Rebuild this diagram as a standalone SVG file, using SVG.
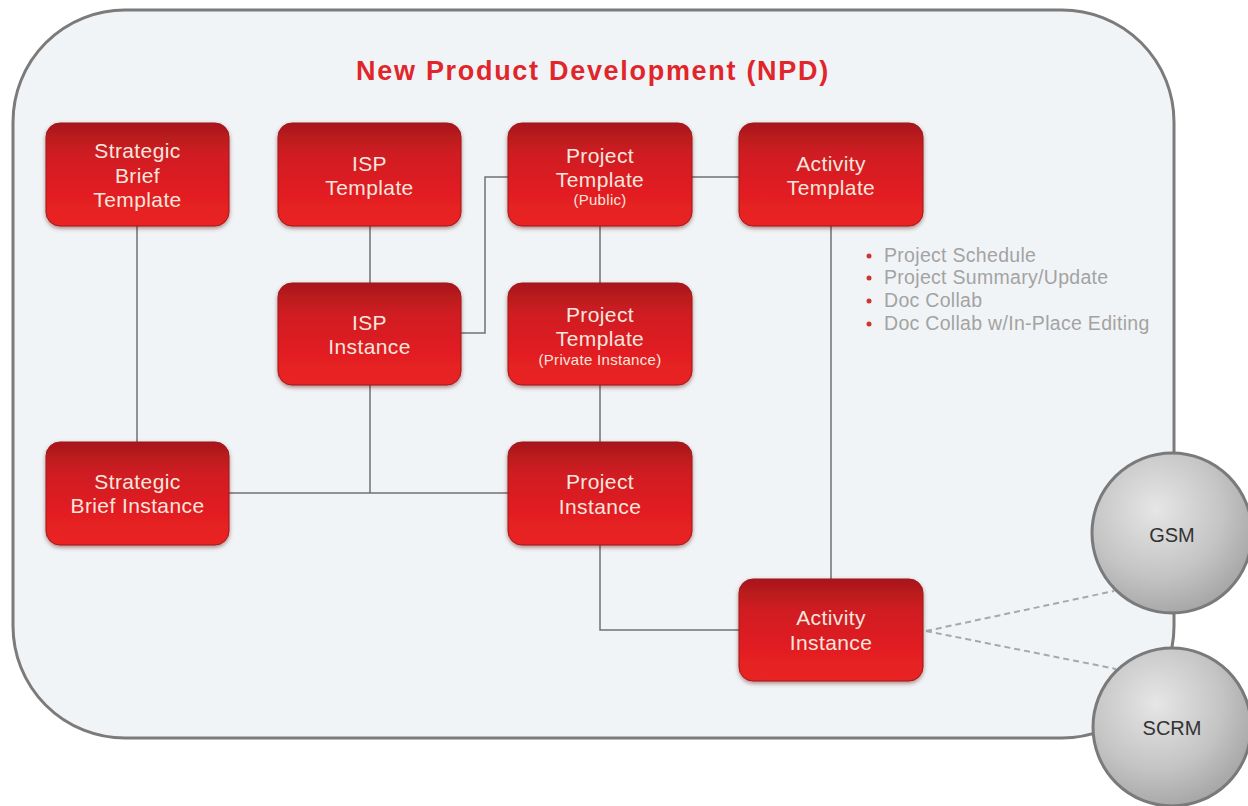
<svg xmlns="http://www.w3.org/2000/svg" width="1248" height="806" viewBox="0 0 1248 806">
<defs>
<linearGradient id="red" x1="0" y1="0" x2="0" y2="1">
<stop offset="0" stop-color="#a8181c"/>
<stop offset="0.3" stop-color="#cf1d21"/>
<stop offset="0.7" stop-color="#e31f20"/>
<stop offset="1" stop-color="#ea2220"/>
</linearGradient>
<radialGradient id="gray" cx="0.4" cy="0.35" r="0.7">
<stop offset="0" stop-color="#e6e6e6"/>
<stop offset="0.6" stop-color="#c4c4c4"/>
<stop offset="1" stop-color="#a3a3a3"/>
</radialGradient>
<filter id="sh" x="-10%" y="-10%" width="120%" height="125%">
<feDropShadow dx="0" dy="2" stdDeviation="2" flood-color="#5a1010" flood-opacity="0.45"/>
</filter>
</defs>
<style>
.box{fill:url(#red);stroke:#9e1a1c;stroke-width:1;filter:url(#sh)}
.nt{font-family:"Liberation Sans",Arial,sans-serif;font-size:21px;fill:#f6e6de;text-anchor:middle;letter-spacing:0.4px}
.st{font-size:15px;letter-spacing:0.3px}
.ln{fill:none;stroke:#707070;stroke-width:1.5}
.dl{fill:none;stroke:#a8a8a8;stroke-width:2;stroke-dasharray:6 4}
.bl{font-family:"Liberation Sans",Arial,sans-serif;font-size:19.5px;fill:#a3a3a3;letter-spacing:0.3px}
.circ{fill:url(#gray);stroke:#7a7a7a;stroke-width:3}
.ct{font-family:"Liberation Sans",Arial,sans-serif;font-size:20px;fill:#333;text-anchor:middle}
</style>
<rect width="1248" height="806" fill="#ffffff"/>
<g id="container">
<rect x="13" y="10" width="1161" height="728" rx="112" ry="112" fill="#f1f4f6" stroke="#7d7a7a" stroke-width="3"/>
<text x="593" y="80" font-family="'Liberation Sans',Arial,sans-serif" font-size="27" font-weight="bold" fill="#e0262a" text-anchor="middle" letter-spacing="1.7">New Product Development (NPD)</text>
</g>
<g id="connectors">
<path class="ln" d="M137 226V442"/>
<path class="ln" d="M370 226V283"/>
<path class="ln" d="M461 333H485V177H508"/>
<path class="ln" d="M692 177H739"/>
<path class="ln" d="M600 226V283"/>
<path class="ln" d="M600 385V442"/>
<path class="ln" d="M370 385V493"/>
<path class="ln" d="M229 493H508"/>
<path class="ln" d="M600 545V630H739"/>
<path class="ln" d="M831 226V579"/>
<path class="dl" d="M926 631L1114 591"/>
<path class="dl" d="M926 631L1116 669"/>
</g>
<g id="sbt">
<rect class="box" x="46" y="123" width="183" height="103" rx="14"/>
<text class="nt" x="137.5" y="158">Strategic</text>
<text class="nt" x="137.5" y="183">Brief</text>
<text class="nt" x="137.5" y="207">Template</text>
</g>
<g id="ispt">
<rect class="box" x="278" y="123" width="183" height="103" rx="14"/>
<text class="nt" x="369.5" y="171">ISP</text>
<text class="nt" x="369.5" y="195">Template</text>
</g>
<g id="ptpub">
<rect class="box" x="508" y="123" width="184" height="103" rx="14"/>
<text class="nt" x="600" y="163">Project</text>
<text class="nt" x="600" y="187">Template</text>
<text class="nt st" x="600" y="205">(Public)</text>
</g>
<g id="at">
<rect class="box" x="739" y="123" width="184" height="103" rx="14"/>
<text class="nt" x="831" y="171">Activity</text>
<text class="nt" x="831" y="195">Template</text>
</g>
<g id="ispi">
<rect class="box" x="278" y="283" width="183" height="102" rx="14"/>
<text class="nt" x="369.5" y="330">ISP</text>
<text class="nt" x="369.5" y="354">Instance</text>
</g>
<g id="ptpriv">
<rect class="box" x="508" y="283" width="184" height="102" rx="14"/>
<text class="nt" x="600" y="322">Project</text>
<text class="nt" x="600" y="346">Template</text>
<text class="nt st" x="600" y="365">(Private Instance)</text>
</g>
<g id="sbi">
<rect class="box" x="46" y="442" width="183" height="103" rx="14"/>
<text class="nt" x="137.5" y="489">Strategic</text>
<text class="nt" x="137.5" y="513">Brief Instance</text>
</g>
<g id="pi">
<rect class="box" x="508" y="442" width="184" height="103" rx="14"/>
<text class="nt" x="600" y="489">Project</text>
<text class="nt" x="600" y="514">Instance</text>
</g>
<g id="ai">
<rect class="box" x="739" y="579" width="184" height="102" rx="14"/>
<text class="nt" x="831" y="625">Activity</text>
<text class="nt" x="831" y="650">Instance</text>
</g>
<g id="bullets">
<circle cx="869" cy="256" r="2.5" fill="#d0342f"/>
<text class="bl" x="884" y="262">Project Schedule</text>
<circle cx="869" cy="278" r="2.5" fill="#d0342f"/>
<text class="bl" x="884" y="284">Project Summary/Update</text>
<circle cx="869" cy="301" r="2.5" fill="#d0342f"/>
<text class="bl" x="884" y="307">Doc Collab</text>
<circle cx="869" cy="324" r="2.5" fill="#d0342f"/>
<text class="bl" x="884" y="330">Doc Collab w/In-Place Editing</text>
</g>
<g id="gsm">
<circle class="circ" cx="1172" cy="533" r="80"/>
<text class="ct" x="1172" y="542">GSM</text>
</g>
<g id="scrm">
<circle class="circ" cx="1172" cy="727" r="79"/>
<text class="ct" x="1172" y="735">SCRM</text>
</g>
</svg>
